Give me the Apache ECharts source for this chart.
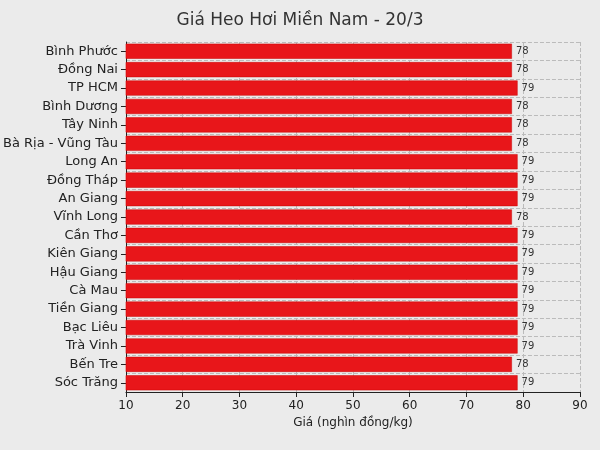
<!DOCTYPE html><html><head><meta charset="utf-8"><script src="https://cdn.jsdelivr.net/npm/echarts@6/dist/echarts.min.js"></script></head><body style="margin:0;background:#ebebeb"><div id="c" style="width:600px;height:450px"></div><script>
const provinces=["Bình Phước","Đồng Nai","TP HCM","Bình Dương","Tây Ninh","Bà Rịa - Vũng Tàu","Long An","Đồng Tháp","An Giang","Vĩnh Long","Cần Thơ","Kiên Giang","Hậu Giang","Cà Mau","Tiền Giang","Bạc Liêu","Trà Vinh","Bến Tre","Sóc Trăng"];
const prices=[78,78,79,78,78,78,79,79,79,78,79,79,79,79,79,79,79,78,79];
const xTicks=[10,20,30,40,50,60,70,80,90];
const ch=echarts.init(document.getElementById('c'));
ch.setOption({backgroundColor:'#ebebeb',textStyle:{fontFamily:'DejaVu Sans'},
title:{text:'Giá Heo Hơi Miền Nam - 20/3',left:'center',top:7,textStyle:{fontSize:17,fontWeight:'normal',color:'#333'}},
grid:{left:125,right:20,top:42,bottom:58},
xAxis:{type:'value',min:10,max:90,interval:10,name:'Giá (nghìn đồng/kg)',nameLocation:'middle',nameGap:24,nameTextStyle:{fontSize:12,color:'#222'},
axisLine:{show:true,lineStyle:{color:'#222'}},axisTick:{show:true,lineStyle:{color:'#222'}},axisLabel:{color:'#222',fontSize:12,formatter:v=>xTicks.includes(v)?v:''},
splitLine:{lineStyle:{type:'dashed',color:'#bbb'}}},
yAxis:{type:'category',data:provinces,inverse:true,axisLine:{lineStyle:{color:'#222'}},axisTick:{show:true,alignWithLabel:true,lineStyle:{color:'#222'}},axisLabel:{color:'#222',fontSize:13},splitLine:{show:true,lineStyle:{type:'dashed',color:'#bbb'}}},
series:[{type:'bar',data:prices,barCategoryGap:'18%',itemStyle:{color:'#e8161a',borderColor:'#c00',borderWidth:0.5},
label:{show:true,position:'right',fontSize:10,color:'#333',distance:4}}]});
</script></body></html>
